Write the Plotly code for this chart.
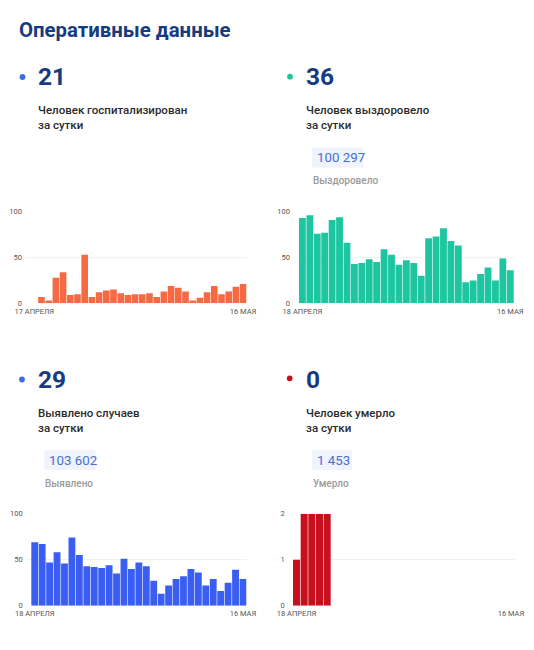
import plotly.graph_objects as go

# Размер картинки
W, H = 534, 650

# Данные
hosp_values = [0, 7, 3, 28, 34, 9, 10, 53, 7, 12, 14, 15, 11, 9, 10, 10, 11, 7,
               13, 19, 17, 13, 3, 6, 12, 19, 10, 13, 18, 21]
recov_values = [93, 96, 76, 77, 91, 94, 66, 43, 44, 48, 45, 59, 53, 42, 47, 44, 30,
                71, 73, 82, 68, 63, 23, 25, 32, 39, 25, 49, 36]
cases_values = [69, 67, 47, 58, 46, 74, 55, 43, 42, 41, 44, 35, 51, 40, 47, 43, 27,
                13, 22, 29, 32, 40, 36, 22, 29, 16, 25, 39, 29]
death_values = [1, 2, 2, 2, 2] + [0] * 24

hosp_labels = ["17 АПРЕЛЯ", "16 МАЯ"]
other_labels = ["18 АПРЕЛЯ", "16 МАЯ"]

big_numbers = ["21", "36", "29", "0"]
captions = ["Человек госпитализирован<br>за сутки", "Человек выздоровело<br>за сутки",
            "Выявлено случаев<br>за сутки", "Человек умерло<br>за сутки"]
totals = [None, "100 297", "103 602", "1 453"]
total_names = [None, "Выздоровело", "Выявлено", "Умерло"]

NAVY = "#173b7e"
bar_colors = ["#f56a43", "#1dc6a0", "#3a5ef2", "#c80f1e"]
dot_colors = ["#3d6be3", "#1dc6a0", "#3d6be3", "#c80f1e"]


def px_x(v):
    return v / W


def px_y(v):
    return 1 - v / H


fig = go.Figure()

# (значения, подписи, x-домен px, y-домен px (верх, низ), x-диапазон, y-макс, y-шаг, отступ подписей)
panels = [
    (hosp_values, hosp_labels, (25, 246.7), (211.7, 303.3), [-1.29, 29.5], 100, 50, 2),
    (recov_values, other_labels, (297, 514), (211.7, 303.3), [-0.73, 28.5], 100, 50, 6),
    (cases_values, other_labels, (26.7, 246.7), (513.7, 605.7), [-1.08, 28.5], 100, 50, 3),
    (death_values, other_labels, (292.7, 514.8), (513.7, 605.7), [-0.5, 28.5], 2, 1, 7),
]

for i, (vals, labels, xd, yd, xr, ymax, dtick, standoff) in enumerate(panels):
    n = i + 1
    xa = "x" if n == 1 else f"x{n}"
    ya = "y" if n == 1 else f"y{n}"
    fig.add_trace(go.Bar(
        x=list(range(len(vals))), y=vals, xaxis=xa, yaxis=ya,
        marker_color=bar_colors[i], marker_line_width=0, showlegend=False,
    ))
    sfx = "" if n == 1 else str(n)
    fig.update_layout(**{
        f"xaxis{sfx}": dict(
            domain=[px_x(xd[0]), px_x(xd[1])], range=xr, anchor=ya,
            tickvals=[0, len(vals) - 1], ticktext=labels, automargin=False,
            showgrid=False, zeroline=False, showline=False, ticks="",
            tickfont=dict(size=7.5, color="#555555"), ticklabelstandoff=2,
        ),
        f"yaxis{sfx}": dict(
            domain=[px_y(yd[1]), px_y(yd[0])], range=[0, ymax], anchor=xa,
            dtick=dtick, showgrid=True, gridcolor="#f1f1f1", gridwidth=1,
            zeroline=False, showline=False, ticks="", automargin=False,
            tickfont=dict(size=7.5, color="#555555"), ticklabelstandoff=standoff,
        ),
    })

annotations = []
shapes = []

# Заголовок
annotations.append(dict(
    text="<b>Оперативные данные</b>", x=px_x(17), y=px_y(30),
    font=dict(size=20.4, color=NAVY),
))

# Блоки: (левый край px, центр большого числа px)
blocks = [(37, 76.5), (305, 76.5), (37, 379), (305, 379)]
dots = [(22.5, 77), (290, 76.7), (22, 379.5), (289.7, 378.3)]

for i, (bx, by) in enumerate(blocks):
    cx, cy = dots[i]
    shapes.append(dict(
        type="circle", xref="paper", yref="paper",
        x0=px_x(cx - 2.9), x1=px_x(cx + 2.9), y0=px_y(cy + 2.9), y1=px_y(cy - 2.9),
        fillcolor=dot_colors[i], line_width=0,
    ))
    annotations.append(dict(
        text=f"<b>{big_numbers[i]}</b>", x=px_x(bx - 1.5), y=px_y(by),
        font=dict(size=24.5, color=NAVY),
    ))
    annotations.append(dict(
        text=captions[i], x=px_x(bx - 1.5), y=px_y(by + 41),
        font=dict(size=11.5, color="#2b2b2b", weight=500), align="left",
    ))
    if totals[i] is not None:
        tx = bx + 7
        ty = by + 81
        shapes.append(dict(
            type="rect", xref="paper", yref="paper",
            x0=px_x(tx), x1=px_x(tx + (51.5 if len(totals[i]) > 5 else 40)),
            y0=px_y(ty + 10), y1=px_y(ty - 10),
            fillcolor="#eef3fc", line_width=0, layer="below",
        ))
        annotations.append(dict(
            text=totals[i], x=px_x(tx + 2.5), y=px_y(ty),
            font=dict(size=13.3, color="#4a6fd1"),
        ))
        annotations.append(dict(
            text=total_names[i], x=px_x(tx - 1), y=px_y(ty + 23),
            font=dict(size=10, color="#9a9a9a", weight=500),
        ))

for a in annotations:
    a.update(xref="paper", yref="paper", showarrow=False, xanchor="left", yanchor="middle")

fig.update_layout(
    width=W, height=H,
    margin=dict(l=0, r=0, t=0, b=0),
    paper_bgcolor="white", plot_bgcolor="white",
    font=dict(family="Roboto, sans-serif"),
    bargap=0.08,
    annotations=annotations, shapes=shapes,
)

# убрать стандартный отступ страницы, чтобы рисунок встал в угол окна
fig.write_html("out.html", config={"displayModeBar": False},
               post_script="document.body.style.margin = '0';")
